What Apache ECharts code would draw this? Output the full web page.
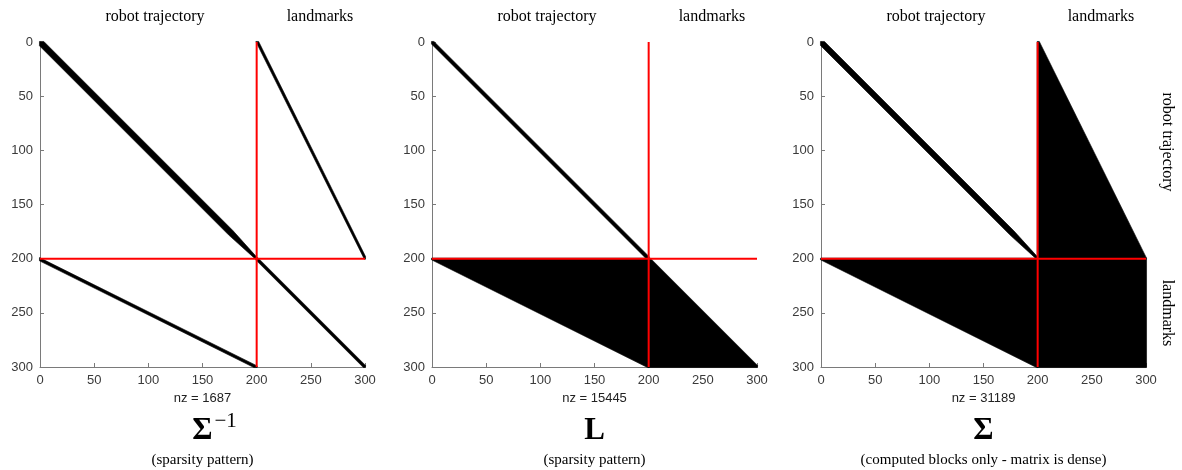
<!DOCTYPE html>
<html>
<head>
<meta charset="utf-8">
<script src="https://cdn.jsdelivr.net/npm/echarts@6/dist/echarts.min.js"></script>
<style>
  html, body { margin: 0; padding: 0; background: #fff; }
  #chart { width: 1182px; height: 470px; }
</style>
</head>
<body>
<div id="chart"></div>
<script>
// Matrix size and the boundary between pose rows/cols and landmark rows/cols
const matrixSize = 300;
const blockSplit = 200;
const tickStep = 50;

// Non-zero regions of each matrix, as polygons of [column, row] vertices
const sigmaInvRegions = [
  [[-0.5, -0.5], [3.5, -0.5], [178, 174], [200.5, 199], [200.5, 200.5], [199, 200.5], [174, 178], [-0.5, 3.5]],
  [[-0.5, 199], [200.5, 299], [200.5, 300.5], [197.5, 300.5], [-0.5, 202]],
  [[199.2, -0.5], [299.4, 200.5], [300.5, 200.5], [300.5, 198], [201.8, -0.5]],
  [[199.5, 199.5], [201.5, 199.5], [300.5, 298.5], [300.5, 300.5], [298.5, 300.5], [199.5, 201.5]]
];
const choleskyRegions = [
  [[-0.5, -0.5], [1.8, -0.5], [200.5, 198.2], [200.5, 200.5], [198.2, 200.5], [-0.5, 1.8]],
  [[-0.5, 199.5], [200.5, 199.5], [200.5, 300.5], [199, 300.5], [-0.5, 201]],
  [[199.5, 199.5], [201.5, 199.5], [300.5, 298.5], [300.5, 300.5], [199.5, 300.5]]
];
const sigmaRegions = [
  [[-0.5, -0.5], [3.2, -0.5], [178, 174.3], [200.5, 199], [200.5, 200.5], [199, 200.5], [174.3, 178], [-0.5, 3.2]],
  [[199.5, -0.5], [201.5, -0.5], [300.5, 199.5], [199.5, 199.5]],
  [[-0.5, 199.5], [200.5, 199.5], [200.5, 300.5], [199, 300.5], [-0.5, 201]],
  [[199.5, 199.5], [300.5, 199.5], [300.5, 300.5], [199.5, 300.5]]
];

// Labels
const nzCounts = [1687, 15445, 31189];
const matrixSymbols = ['Σ', 'L', 'Σ'];
const symbolExponents = ['−1', '', ''];
const subtitles = ['(sparsity pattern)', '(sparsity pattern)', '(computed blocks only - matrix is dense)'];
const blockNames = ['robot trajectory', 'landmarks'];

const panels = [sigmaInvRegions, choleskyRegions, sigmaRegions];
const gridLefts = [40, 432, 821];
const gridTop = 42;
const gridSize = 325;

const serif = '"Liberation Serif", "Times New Roman", serif';
const sans = '"Liberation Sans", Helvetica, Arial, sans-serif';

const grids = [], xAxes = [], yAxes = [], series = [], graphics = [];

panels.forEach((regions, i) => {
  grids.push({ left: gridLefts[i], top: gridTop, width: gridSize, height: gridSize, containLabel: false });
  const axisCommon = {
    type: 'value', min: 0, max: matrixSize, interval: tickStep, gridIndex: i,
    splitLine: { show: false },
    axisLine: { show: true, onZero: false, lineStyle: { color: '#7a7a7a', width: 1 } },
    axisTick: { show: true, inside: true, length: 4, lineStyle: { color: '#7a7a7a' } },
    axisLabel: { color: '#3a3a3a', fontSize: 13, fontFamily: sans, margin: 7 }
  };
  xAxes.push(Object.assign({}, axisCommon, { position: 'bottom' }));
  yAxes.push(Object.assign({}, axisCommon, { inverse: true, position: 'left' }));

  series.push({
    type: 'custom', xAxisIndex: i, yAxisIndex: i, z: 2, silent: true,
    data: regions.map(r => r[0]),
    renderItem: (params, api) => ({
      type: 'polygon',
      shape: { points: regions[params.dataIndex].map(p => api.coord(p)) },
      style: { fill: '#000', stroke: '#000', lineWidth: 0.6 }
    })
  });
  // block boundaries
  series.push({
    type: 'line', xAxisIndex: i, yAxisIndex: i, z: 5, silent: true,
    symbol: 'none', lineStyle: { color: '#ff0000', width: 2 },
    data: [[blockSplit, 0], [blockSplit, matrixSize], null, [0, blockSplit], [matrixSize, blockSplit]],
    connectNulls: false
  });

  const left = gridLefts[i];
  const cx = left + gridSize / 2;
  graphics.push(
    { type: 'text', x: left + 115, y: 17, style: { text: blockNames[0], font: '16px ' + serif, fill: '#000', align: 'center', verticalAlign: 'middle' } },
    { type: 'text', x: left + 280, y: 17, style: { text: blockNames[1], font: '16px ' + serif, fill: '#000', align: 'center', verticalAlign: 'middle' } },
    { type: 'text', x: cx, y: 398, style: { text: 'nz = ' + nzCounts[i], font: '13px ' + sans, fill: '#222', align: 'center', verticalAlign: 'middle' } },
    { type: 'text', x: cx, y: 431, style: { text: matrixSymbols[i], font: 'bold 31px ' + serif, fill: '#000', align: 'center', verticalAlign: 'middle' } },
    { type: 'text', x: cx, y: 460, style: { text: subtitles[i], font: '15px ' + serif, fill: '#000', align: 'center', verticalAlign: 'middle' } }
  );
  if (symbolExponents[i]) {
    graphics.push({ type: 'text', x: cx + 12, y: 421, style: { text: symbolExponents[i], font: '21px ' + serif, fill: '#000', align: 'left', verticalAlign: 'middle' } });
  }
});

// Row-block labels on the right of the last panel
graphics.push(
  { type: 'text', x: 1167, y: 142, rotation: -Math.PI / 2, style: { text: blockNames[0], font: '16px ' + serif, fill: '#000', align: 'center', verticalAlign: 'middle' } },
  { type: 'text', x: 1167, y: 313, rotation: -Math.PI / 2, style: { text: blockNames[1], font: '16px ' + serif, fill: '#000', align: 'center', verticalAlign: 'middle' } }
);

const chart = echarts.init(document.getElementById('chart'), null, { renderer: 'canvas' });
chart.setOption({
  animation: false,
  backgroundColor: '#fff',
  grid: grids,
  xAxis: xAxes,
  yAxis: yAxes,
  series: series,
  graphic: graphics
});
</script>
</body>
</html>
